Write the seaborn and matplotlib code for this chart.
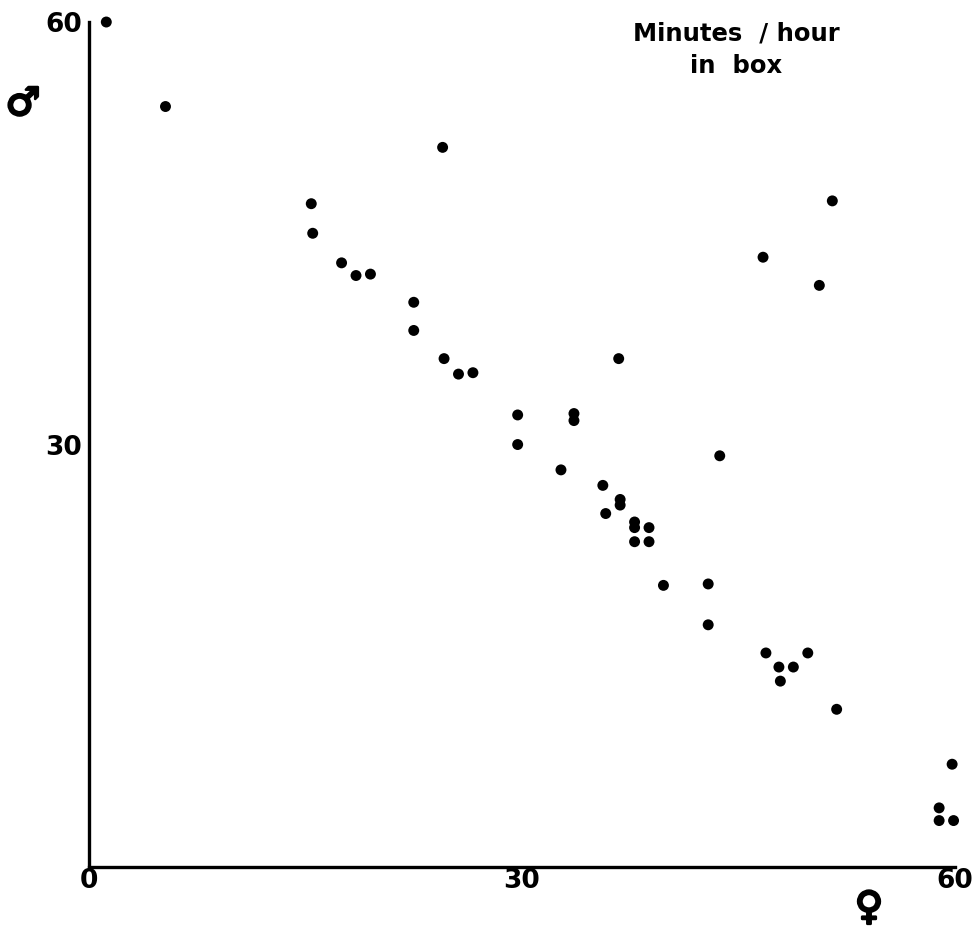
import matplotlib
matplotlib.use("Agg")
import matplotlib.pyplot as plt
import matplotlib.patheffects as pe
import seaborn as sns
import pandas as pd

# Female minutes/hour in box (x) vs male minutes/hour in box (y)
female_minutes = [1.2, 5.3, 24.5, 15.4, 15.5, 17.5, 18.5, 19.5, 22.5, 22.5,
                  24.6, 25.6, 26.6, 29.7, 29.7, 51.5, 46.7, 50.6, 36.7, 33.6,
                  33.6, 43.7, 32.7, 35.6, 36.8, 36.8, 35.8, 37.8, 37.8, 38.8,
                  37.8, 38.8, 39.8, 42.9, 42.9, 46.9, 47.8, 48.8, 49.8, 47.9,
                  51.8, 59.8, 58.9, 58.9, 59.9]
male_minutes = [60.0, 54.0, 51.1, 47.1, 45.0, 42.9, 42.0, 42.1, 40.1, 38.1,
                36.1, 35.0, 35.1, 32.1, 30.0, 47.3, 43.3, 41.3, 36.1, 32.2,
                31.7, 29.2, 28.2, 27.1, 26.1, 25.7, 25.1, 24.5, 24.1, 24.1,
                23.1, 23.1, 20.0, 20.1, 17.2, 15.2, 14.2, 14.2, 15.2, 13.2,
                11.2, 7.3, 4.2, 3.3, 3.3]
x_ticks = [0, 30, 60]
x_tick_labels = ["0", "30", "60"]
y_ticks = [30, 60]
y_tick_labels = ["30", "60"]
title_text = "Minutes  / hour\nin  box"
male_sym = "\u2642"
female_sym = "\u2640"

df = pd.DataFrame({"female": female_minutes, "male": male_minutes})

sns.set_style("white")
plt.rcParams["font.family"] = ["DejaVu Sans"]
plt.rcParams["text.color"] = "black"
plt.rcParams["xtick.color"] = "black"
plt.rcParams["ytick.color"] = "black"

fig = plt.figure(figsize=(9.8, 9.33), dpi=100)
ax = fig.add_axes([0.0908, 0.0707, 0.8837, 0.9057])

sns.scatterplot(data=df, x="female", y="male", ax=ax, color="black",
                s=62, edgecolor="none", linewidth=0, legend=False, clip_on=False)

ax.set_xlim(0, 60)
ax.set_ylim(0, 60)
for side in ["top", "right"]:
    ax.spines[side].set_visible(False)
for side in ["left", "bottom"]:
    ax.spines[side].set_linewidth(2.4)
    ax.spines[side].set_color("black")

ax.set_xticks(x_ticks)
ax.set_xticklabels(x_tick_labels, fontsize=19, fontweight="bold", color="black")
ax.set_yticks(y_ticks)
ax.set_yticklabels(y_tick_labels, fontsize=19, fontweight="bold", color="black")
ax.tick_params(axis="both", length=0)
ax.tick_params(axis="x", pad=1)
ax.tick_params(axis="y", pad=5)
ax.set_xlabel("")
ax.set_ylabel("")

fig.text(736 / 980, 1 - 50 / 933, title_text, ha="center", va="center",
         fontsize=17.5, fontweight="bold", linespacing=1.45, color="black")
thick = [pe.withStroke(linewidth=1.8, foreground="black")]
fig.text(23 / 980, 1 - 104 / 933, male_sym, ha="center", va="center",
         fontsize=28, fontweight="bold", color="black", path_effects=thick)
fig.text(869 / 980, 1 - 908 / 933, female_sym, ha="center", va="center",
         fontsize=28, fontweight="bold", color="black", path_effects=thick)

fig.savefig("out.png", dpi=100, facecolor="white")
